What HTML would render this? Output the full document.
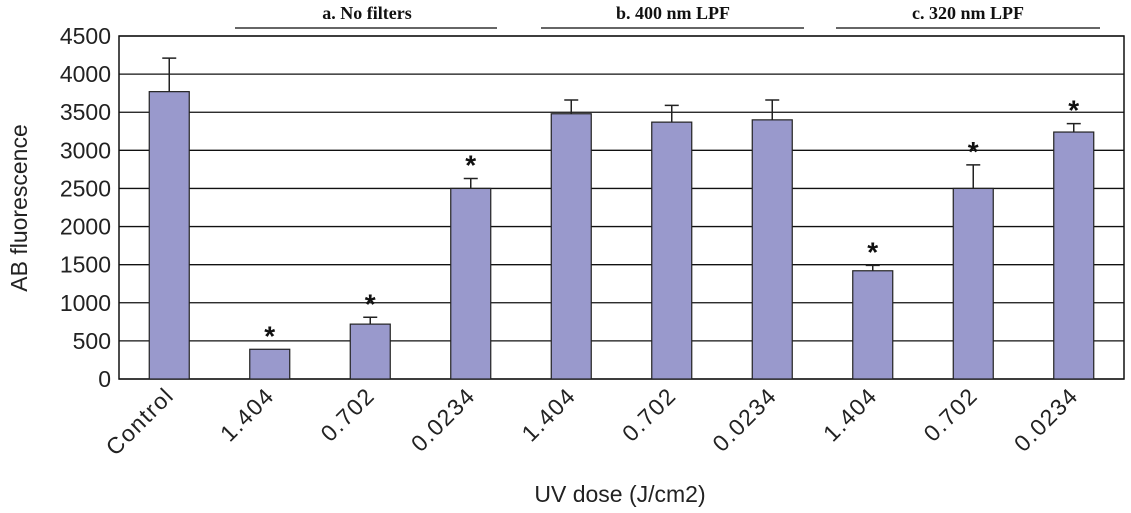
<!DOCTYPE html>
<html><head><meta charset="utf-8"><style>
html,body{margin:0;padding:0;background:#fff;}
svg{display:block;font-family:"Liberation Sans",sans-serif;}
</style></head><body>
<svg id="chart" width="1131" height="513" viewBox="0 0 1131 513" xmlns="http://www.w3.org/2000/svg">
<g id="grid"></g>
<g id="bars"></g>
<g id="xlabels"></g>
<g id="ylabels"></g>
<text transform="translate(27,208) rotate(-90)" text-anchor="middle" font-size="23" fill="#222">AB fluorescence</text>
<text x="620" y="502" text-anchor="middle" font-size="23" fill="#222">UV dose (J/cm2)</text>
<g font-family="Liberation Serif,serif" font-weight="bold" font-size="18" fill="#111">
<text x="367" y="19" text-anchor="middle">a. No filters</text>
<line x1="235" y1="28" x2="497" y2="28" stroke="#333" stroke-width="1.5"/>
<text x="673" y="19" text-anchor="middle">b. 400 nm LPF</text>
<line x1="541" y1="28" x2="804" y2="28" stroke="#333" stroke-width="1.5"/>
<text x="968" y="19" text-anchor="middle">c. 320 nm LPF</text>
<line x1="836" y1="28" x2="1100" y2="28" stroke="#333" stroke-width="1.5"/>
</g>
</svg>
<script>
const categories=["Control","1.404","0.702","0.0234","1.404","0.702","0.0234","1.404","0.702","0.0234"];
const values=[3770,390,720,2500,3480,3370,3400,1420,2500,3240];
const errors=[4210,390,810,2630,3660,3590,3660,1490,2810,3350];
const significant=[false,true,true,true,false,false,false,true,true,true];
const yTicks=[0,500,1000,1500,2000,2500,3000,3500,4000,4500];
const L=119,R=1124,T=36,B=379,yMax=4500;
const NS="http://www.w3.org/2000/svg";
const y=v=>B-(v/yMax)*(B-T);
const band=(R-L)/categories.length;
const xc=i=>L+band*(i+0.5);
function mk(t,a,p){const e=document.createElementNS(NS,t);for(const k in a)e.setAttribute(k,a[k]);p.appendChild(e);return e;}
const g=document.getElementById('grid');
yTicks.forEach(v=>{const l=mk('line',{x1:L,x2:R,y1:y(v),y2:y(v),stroke:'#111','stroke-width':1.3},g);


const t=mk('text',{x:L-8,y:y(v)+8,'text-anchor':'end','font-size':23,fill:'#222'},document.getElementById('ylabels'));
t.textContent=v;

});
mk('rect',{x:L,y:T,width:R-L,height:B-T,fill:'none',stroke:'#111','stroke-width':1.5},g);
const bg=document.getElementById('bars');
categories.forEach((c,i)=>{const x=xc(i),w=40;
const r=mk('rect',{x:x-w/2,y:y(values[i]),width:w,height:B-y(values[i]),fill:'#9999cc',stroke:'#222','stroke-width':1.2},bg);


if(errors[i]>values[i]){const e=mk('path',{d:`M${x},${y(values[i])}V${y(errors[i])}M${x-7},${y(errors[i])}H${x+7}`,stroke:'#222','stroke-width':1.5,fill:'none'},bg);

}
if(significant[i]){const s=mk('text',{x:x,y:y(errors[i])-4,'text-anchor':'middle','font-size':28,'font-weight':'bold',fill:'#111'},bg);
s.textContent='*';

}
const t=mk('text',{transform:`translate(${x+6},${B+18}) rotate(-45)`,'text-anchor':'end','font-size':23,'letter-spacing':1.5,fill:'#222'},document.getElementById('xlabels'));
t.textContent=c;

});
</script>
</body></html>
